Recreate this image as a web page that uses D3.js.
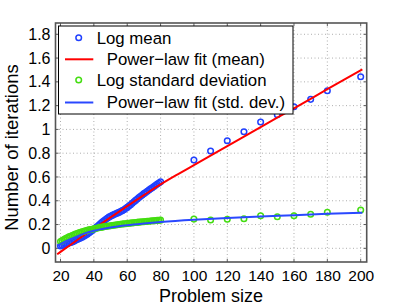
<!DOCTYPE html>
<html><head><meta charset="utf-8">
<script src="https://cdn.jsdelivr.net/npm/d3@7"></script>
<style>body{margin:0;background:#fff}svg{display:block}text{font-family:"Liberation Sans",Arial,sans-serif;fill:#000}</style>
</head><body><svg id="c" width="405" height="305"></svg>
<script>
// ---- data ----
const denseX = d3.range(20, 81);
const meanDense = [0.020,0.024,0.028,0.033,0.038,0.044,0.049,0.054,0.060,0.067,0.074,0.080,0.087,0.094,0.102,0.110,0.119,0.129,0.139,0.150,0.161,0.172,0.184,0.196,0.208,0.220,0.231,0.242,0.252,0.262,0.270,0.277,0.284,0.290,0.296,0.302,0.309,0.317,0.325,0.334,0.344,0.355,0.367,0.379,0.391,0.403,0.415,0.427,0.438,0.449,0.460,0.470,0.480,0.490,0.500,0.510,0.520,0.530,0.540,0.550,0.560];
const stdDense = [0.058,0.066,0.074,0.082,0.089,0.096,0.102,0.108,0.114,0.120,0.125,0.130,0.135,0.139,0.143,0.147,0.151,0.155,0.158,0.161,0.164,0.167,0.170,0.173,0.176,0.178,0.181,0.183,0.186,0.188,0.190,0.192,0.194,0.196,0.198,0.200,0.202,0.204,0.206,0.207,0.209,0.211,0.212,0.214,0.215,0.217,0.218,0.220,0.221,0.223,0.224,0.226,0.227,0.228,0.230,0.231,0.232,0.233,0.235,0.236,0.237];
const sparseX = [100,110,120,130,140,150,160,170,180,200];
const meanSparse = [0.743,0.818,0.905,0.981,1.062,1.124,1.191,1.253,1.325,1.443];
const stdSparse = [0.246,0.238,0.244,0.249,0.274,0.266,0.274,0.286,0.303,0.322];
const fitMeanX = [18,20,25,30,40,50,60,70,80,90,100,120,140,160,180,201];
const fitMeanY = [-0.05,-0.03,0.02,0.07,0.165,0.26,0.355,0.447,0.537,0.62,0.70,0.86,1.02,1.178,1.338,1.505];
const fitStdX = [18,20,25,30,35,40,45,50,60,70,80,100,120,140,160,180,201];
const fitStdY = [0.02,0.035,0.07,0.10,0.128,0.148,0.163,0.176,0.195,0.209,0.221,0.24,0.255,0.268,0.279,0.29,0.30];
const xTicks = [20,40,60,80,100,120,140,160,180,200];
const yTicks = [0,0.2,0.4,0.6,0.8,1,1.2,1.4,1.6,1.8];
const legendLabels = ["Log mean","Power\u2212law fit (mean)","Log standard deviation","Power\u2212law fit (std. dev.)"];

// ---- layout ----
const L=55.5, R=366.7, T=23, B=262;
const BLUE="#2040ff", RED="#ff0000", GREEN="#44dd11", BLUEL="#2a48ff";
const svg=d3.select("#c");
const x=d3.scaleLinear().domain([17,203.6]).range([L,R]);
const y=d3.scaleLinear().domain([-0.115,1.895]).range([B,T]);

// grid
const g=svg.append("g");
g.selectAll(".gx").data(xTicks).join("line").attr("x1",d=>x(d)).attr("x2",d=>x(d)).attr("y1",T).attr("y2",B)
 .attr("stroke","#999").attr("stroke-width",0.8).attr("stroke-dasharray","1,2.5");
g.selectAll(".gy").data(yTicks).join("line").attr("y1",d=>y(d)).attr("y2",d=>y(d)).attr("x1",L).attr("x2",R)
 .attr("stroke","#999").attr("stroke-width",0.8).attr("stroke-dasharray","1,2.5");

// axes
const ax=d3.axisBottom(x).tickValues(xTicks).tickSize(0).tickPadding(8).tickFormat(d3.format("d"));
const ay=d3.axisLeft(y).tickValues(yTicks).tickSize(0).tickPadding(5).tickFormat(d=>String(+d.toFixed(1)));
const gax=svg.append("g").attr("transform",`translate(0,${B})`).call(ax);
const gay=svg.append("g").attr("transform",`translate(${L},0)`).call(ay);
[gax,gay].forEach(a=>{a.select(".domain").remove();a.selectAll("text").style("font-family","Liberation Sans, Arial, sans-serif").attr("fill","#000");});
gax.selectAll("text").style("font-size","15.5px").attr("dy","0.71em");
gay.selectAll("text").style("font-size","16px");
// inward ticks on all sides
const tk=svg.append("g").attr("stroke","#333").attr("stroke-width",0.8);
xTicks.forEach(v=>{tk.append("line").attr("x1",x(v)).attr("x2",x(v)).attr("y1",B).attr("y2",B-3);tk.append("line").attr("x1",x(v)).attr("x2",x(v)).attr("y1",T).attr("y2",T+3);});
yTicks.forEach(v=>{tk.append("line").attr("y1",y(v)).attr("y2",y(v)).attr("x1",L).attr("x2",L+3);tk.append("line").attr("y1",y(v)).attr("y2",y(v)).attr("x1",R).attr("x2",R-3);});

// series
svg.append("defs").append("clipPath").attr("id","cp").append("rect").attr("x",L).attr("y",T).attr("width",R-L).attr("height",B-T);
const p=svg.append("g").attr("clip-path","url(#cp)");
const meanPts=denseX.map((d,i)=>[d,meanDense[i]]).concat(sparseX.map((d,i)=>[d,meanSparse[i]]));
const stdPts=denseX.map((d,i)=>[d,stdDense[i]]).concat(sparseX.map((d,i)=>[d,stdSparse[i]]));
const line=d3.line().x(d=>x(d[0])).y(d=>y(d[1])).curve(d3.curveMonotoneX);
p.selectAll(".m").data(meanPts).join("circle").attr("cx",d=>x(d[0])).attr("cy",d=>y(d[1])).attr("r",2.8)
 .attr("fill","none").attr("stroke",BLUE).attr("stroke-width",1.5);
p.append("path").attr("d",line(fitMeanX.map((d,i)=>[d,fitMeanY[i]]))).attr("fill","none").attr("stroke",RED).attr("stroke-width",2);
p.selectAll(".s").data(stdPts).join("circle").attr("cx",d=>x(d[0])).attr("cy",d=>y(d[1])).attr("r",2.8)
 .attr("fill","none").attr("stroke",GREEN).attr("stroke-width",1.5);
p.append("path").attr("d",line(fitStdX.map((d,i)=>[d,fitStdY[i]]))).attr("fill","none").attr("stroke",BLUEL).attr("stroke-width",2);

// frame
svg.append("rect").attr("x",L).attr("y",T).attr("width",R-L).attr("height",B-T).attr("fill","none").attr("stroke","#555").attr("stroke-width",1.6);

// legend
const lg=svg.append("g");
lg.append("rect").attr("x",58.5).attr("y",26).attr("width",234.5).attr("height",88).attr("fill","#fff").attr("stroke","#000").attr("stroke-width",1);
const rowsY=[37.7,59.3,80,102.5];
const textX=[96.7,106.7,96.7,106.7];
lg.append("circle").attr("cx",78.7).attr("cy",rowsY[0]).attr("r",2.8).attr("fill","none").attr("stroke",BLUE).attr("stroke-width",1.5);
lg.append("line").attr("x1",65).attr("x2",93.3).attr("y1",rowsY[1]).attr("y2",rowsY[1]).attr("stroke",RED).attr("stroke-width",2);
lg.append("circle").attr("cx",78.7).attr("cy",rowsY[2]).attr("r",2.8).attr("fill","none").attr("stroke",GREEN).attr("stroke-width",1.5);
lg.append("line").attr("x1",65).attr("x2",93.3).attr("y1",rowsY[3]).attr("y2",rowsY[3]).attr("stroke",BLUEL).attr("stroke-width",2);
legendLabels.forEach((t,i)=>lg.append("text").attr("x",textX[i]).attr("y",rowsY[i]).attr("dy","0.35em").style("font-size","16.8px").text(t));

// titles
svg.append("text").attr("x",211).attr("y",301.5).attr("text-anchor","middle").style("font-size","18px").text("Problem size");
svg.append("text").attr("transform","translate(18,147.5) rotate(-90)").attr("text-anchor","middle").style("font-size","18.5px").text("Number of iterations");
</script></body></html>
